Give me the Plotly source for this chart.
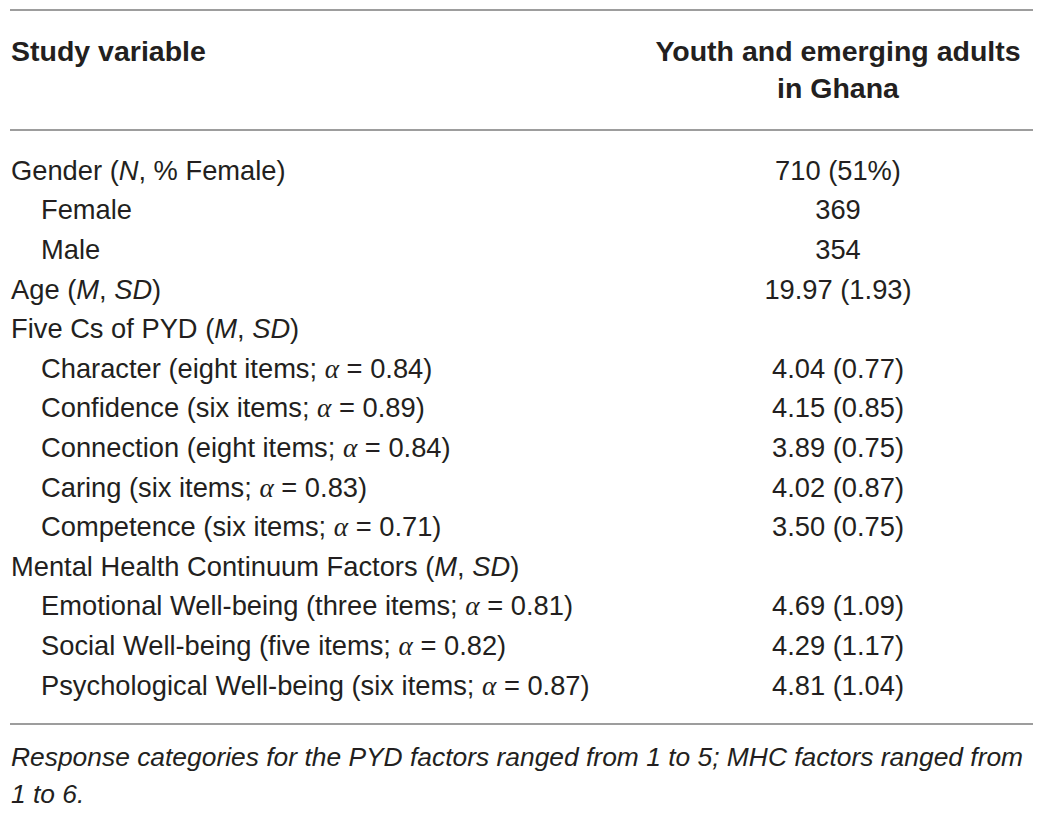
import plotly.graph_objects as go

# table content
ALPHA = "<span style=\"font-family:'Liberation Serif'\"><i>α</i></span>"

variables = [
    "Gender (<i>N</i>, % Female)",
    "Female",
    "Male",
    "Age (<i>M</i>, <i>SD</i>)",
    "Five Cs of PYD (<i>M</i>, <i>SD</i>)",
    "Character (eight items; " + ALPHA + " = 0.84)",
    "Confidence (six items; " + ALPHA + " = 0.89)",
    "Connection (eight items; " + ALPHA + " = 0.84)",
    "Caring (six items; " + ALPHA + " = 0.83)",
    "Competence (six items; " + ALPHA + " = 0.71)",
    "Mental Health Continuum Factors (<i>M</i>, <i>SD</i>)",
    "Emotional Well-being (three items; " + ALPHA + " = 0.81)",
    "Social Well-being (five items; " + ALPHA + " = 0.82)",
    "Psychological Well-being (six items; " + ALPHA + " = 0.87)",
]
indented = [False, True, True, False, False, True, True, True, True, True,
            False, True, True, True]
values = [
    "710 (51%)", "369", "354", "19.97 (1.93)", "",
    "4.04 (0.77)", "4.15 (0.85)", "3.89 (0.75)", "4.02 (0.87)", "3.50 (0.75)",
    "",
    "4.69 (1.09)", "4.29 (1.17)", "4.81 (1.04)",
]
header_left = "Study variable"
header_right = ["Youth and emerging adults", "in Ghana"]
footnote = [
    "Response categories for the PYD factors ranged from 1 to 5; MHC factors ranged from",
    "1 to 6.",
]

TEXT = "#231f20"
RULE = "#9d9d9d"
FONT = "Liberation Sans, Arial, sans-serif"

W, H = 1041, 814
PAGE = 8            # page margin around the figure in the browser
ROW = 39.6          # px per body row
FIRST = 173         # anchor of first body row (text renders ~2px high)


def row_of(px):
    # screen pixel -> row units
    return (px - FIRST) / ROW


rows = list(range(len(variables)))
left_x = [41 if ind else 11 for ind in indented]
mid_x = 838

fig = go.Figure()

# header
fig.add_trace(go.Scatter(
    x=[11], y=[row_of(54)], mode="text", text=["<b>" + header_left + "</b>"],
    textposition="middle right",
    textfont=dict(family=FONT, size=28.5, color=TEXT),
))
fig.add_trace(go.Scatter(
    x=[mid_x, mid_x], y=[row_of(54), row_of(91)], mode="text",
    text=["<b>" + t + "</b>" for t in header_right],
    textposition="middle center",
    textfont=dict(family=FONT, size=28.5, color=TEXT),
))

# body
fig.add_trace(go.Scatter(
    x=left_x, y=rows, mode="text", text=variables,
    textposition="middle right",
    textfont=dict(family=FONT, size=27.3, color=TEXT),
))
fig.add_trace(go.Scatter(
    x=[mid_x] * len(values), y=rows, mode="text", text=values,
    textposition="middle center",
    textfont=dict(family=FONT, size=27.3, color=TEXT),
))

# footnote
fig.add_trace(go.Scatter(
    x=[11, 11], y=[row_of(759), row_of(796)], mode="text",
    text=["<i>" + t + "</i>" for t in footnote],
    textposition="middle right",
    textfont=dict(family=FONT, size=26.4, color=TEXT),
))

for px in (10, 130, 724):
    fig.add_shape(type="line", xref="x", yref="y", x0=10, x1=1033,
                  y0=row_of(px), y1=row_of(px),
                  line=dict(color=RULE, width=2))

fig.update_layout(
    width=W, height=H,
    margin=dict(l=0, r=0, t=0, b=0),
    paper_bgcolor="white", plot_bgcolor="white",
    showlegend=False,
    xaxis=dict(range=[PAGE, W + PAGE], visible=False, fixedrange=True),
    yaxis=dict(range=[row_of(H + PAGE), row_of(PAGE)], visible=False,
               fixedrange=True),
)

fig.write_html("out.html")
